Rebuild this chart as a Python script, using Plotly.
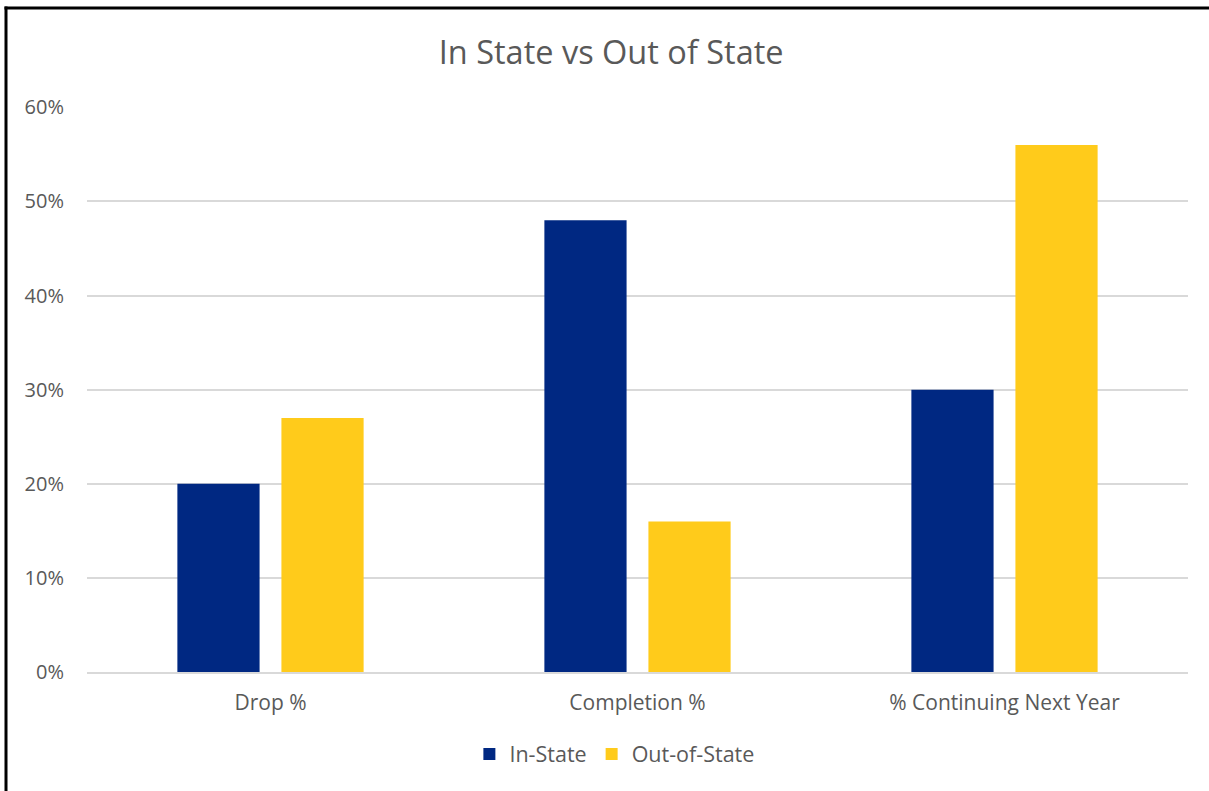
import plotly.graph_objects as go

categories = ["Drop %", "Completion %", "% Continuing Next Year"]
in_state = [0.20, 0.48, 0.30]
out_of_state = [0.27, 0.16, 0.56]
series_names = ["In-State", "Out-of-State"]
series_colors = ["#002882", "#FFCB1B"]
title_text = "In State vs Out of State"

FONT = "Open Sans, sans-serif"
TEXT = "#595959"
GRID = "#D9D9D9"

fig = go.Figure()
for name, vals, color in zip(series_names, [in_state, out_of_state], series_colors):
    fig.add_trace(go.Bar(x=categories, y=vals, name=name, marker_color=color,
                         marker_line_width=0))

fig.update_layout(
    width=1209, height=791,
    margin=dict(l=87, r=21, t=107, b=119),
    paper_bgcolor="white", plot_bgcolor="white",
    barmode="group", bargap=0.433, bargroupgap=0.21,
    font=dict(family=FONT, color=TEXT, size=20),
    title=dict(text=title_text, x=0.5055, xanchor="center", y=0.934, yanchor="middle",
               font=dict(family=FONT, size=32.5, color=TEXT)),
    xaxis=dict(showgrid=False, showline=True, linecolor=GRID, linewidth=1.5,
               ticks="", tickfont=dict(size=21, color=TEXT), ticklabelstandoff=11),
    yaxis=dict(range=[0, 0.6004], tickvals=[0, 0.1, 0.2, 0.3, 0.4, 0.5, 0.6],
               tickformat=".0%", showgrid=True,
               gridcolor=GRID, gridwidth=1.5, zeroline=False, showline=False,
               ticks="", tickfont=dict(size=20, color=TEXT), ticklabelstandoff=22),
    legend=dict(orientation="h", x=0.479, xanchor="center", y=-0.145, yanchor="middle",
                font=dict(size=21.5, color=TEXT), itemwidth=30, traceorder="normal"),
    showlegend=True,
)

# outer frame: left and top edges, drawn as thin filled bands
frame = dict(type="rect", xref="paper", yref="paper", xsizemode="pixel", ysizemode="pixel",
             xanchor=0, yanchor=1, fillcolor="black", line=dict(width=0), layer="above")
fig.add_shape(**frame, x0=-82.5, x1=-79.5, y0=100.5, y1=-700)
fig.add_shape(**frame, x0=-82.5, x1=1130, y0=100.5, y1=97.5)

fig.write_html("out.html", config={"displayModeBar": False})
